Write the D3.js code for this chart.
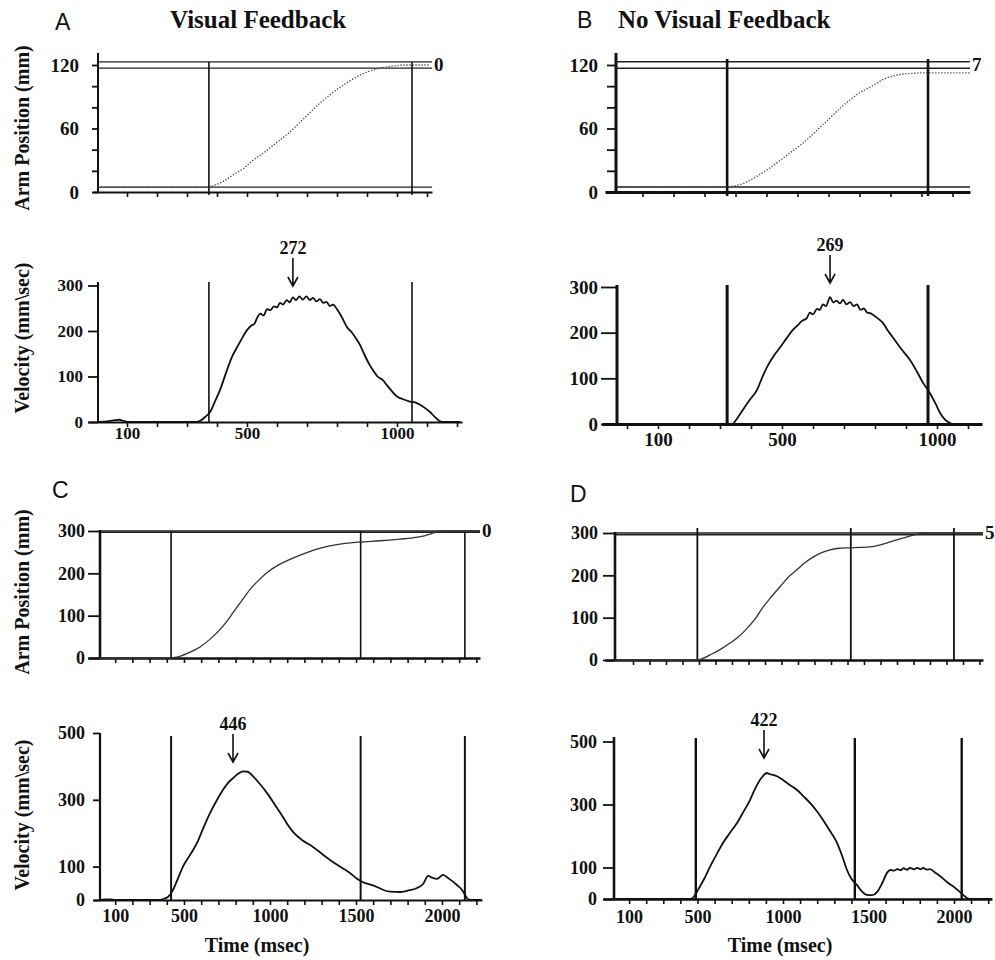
<!DOCTYPE html>
<html><head><meta charset="utf-8">
<script src="https://cdn.jsdelivr.net/npm/d3@7"></script>
<style>body{margin:0;background:#fff} svg{display:block}</style>
</head><body>
<svg id="fig" width="995" height="960"></svg>
<script>
// ---------------- DATA ----------------
const panelLetters = ["A", "B", "C", "D"];
const panelTitles = ["Visual Feedback", "No Visual Feedback"];
const yLabelPos = "Arm Position (mm)";
const yLabelVel = "Velocity (mm\\sec)";
const xLabelTime = "Time (msec)";

// Panel A (visual feedback, short movement)
const A_posT = [3, 373, 387, 420, 453, 487, 520, 560, 600, 640, 677, 710, 743, 777, 810, 843, 877, 910, 943, 987, 1030, 1110];
const A_pos  = [4.7, 4.7, 6, 10, 16, 22, 30, 38, 47, 56, 66, 75, 84, 92, 99, 105, 110.5, 114.5, 117, 119, 120, 120];
const A_velT = [3, 40, 60, 75, 90, 110, 330, 345, 360, 377, 393, 410, 430, 450, 465, 480, 500, 515, 525, 533, 545, 555, 567, 578, 590, 600, 610, 620, 632, 642, 653, 663, 675, 686, 698, 710, 720, 731, 743, 754, 765, 776, 787, 800, 815, 833, 850, 865, 877, 890, 905, 920, 935, 953, 965, 980, 1000, 1020, 1043, 1060, 1077, 1095, 1110, 1125, 1140, 1150, 1210];
const A_vel  = [0, 2, 4, 5, 2, 0, 0, 3, 11, 22, 45, 70, 108, 143, 162, 180, 202, 212, 216, 228, 238, 234, 248, 246, 254, 252, 262, 258, 268, 263, 274, 268, 276, 269, 276, 268, 273, 265, 270, 262, 264, 255, 258, 248, 232, 209, 196, 182, 169, 150, 130, 114, 100, 92, 82, 70, 56, 50, 45, 43, 38, 30, 22, 12, 3, 0, 0];
const A_events = [373, 1050];
const A_targets = [123, 117, 4.7];
const A_peak = {t: 653, label: "272"};
const A_endLabel = "0";

// Panel B (no visual feedback, short movement)
const B_posT = [-30, 325, 332, 387, 420, 452, 490, 526, 558, 590, 622, 655, 687, 719, 752, 784, 812, 839, 865, 890, 918, 945, 1106];
const B_pos  = [4.7, 4.7, 5, 9.5, 15, 21, 29, 37, 44, 52, 61, 70, 79, 87, 94, 99, 104, 108, 110, 111.5, 112, 112.5, 112.5];
const B_velT = [342, 358, 374, 395, 419, 435, 452, 472, 494, 515, 535, 550, 565, 580, 590, 600, 613, 622, 632, 642, 655, 665, 676, 687, 697, 708, 720, 731, 742, 753, 764, 775, 784, 800, 815, 826, 840, 855, 871, 890, 913, 935, 955, 977, 995, 1010, 1025, 1042, 1050];
const B_vel  = [0, 15, 31, 52, 74, 100, 125, 148, 168, 188, 206, 216, 226, 232, 244, 240, 252, 250, 262, 258, 278, 266, 270, 264, 272, 262, 267, 258, 262, 250, 253, 244, 243, 236, 228, 221, 206, 192, 177, 160, 140, 115, 90, 68, 45, 24, 10, 2, 0];
const B_events = [323, 971];
const B_targets = [123, 117, 4.7];
const B_peak = {t: 655, label: "269"};
const B_endLabel = "7";

// Panel C (visual feedback, long movement)
const C_posT = [12, 419, 459, 525, 593, 650, 709, 750, 785, 835, 884, 935, 983, 1050, 1116, 1195, 1273, 1340, 1407, 1523, 1640, 1756, 1830, 1890, 1940, 1988, 2020, 2220];
const C_pos  = [0, 0, 2, 12, 26, 44, 67, 87, 107, 135, 162, 184, 202, 220, 233, 246, 257, 264, 269, 274, 277, 281, 284, 288, 294, 299, 300, 300];
const C_velT = [12, 40, 70, 100, 343, 380, 407, 436, 465, 494, 535, 575, 612, 651, 690, 727, 755, 785, 815, 843, 870, 902, 940, 983, 1030, 1076, 1105, 1134, 1190, 1250, 1310, 1366, 1420, 1465, 1500, 1541, 1580, 1622, 1660, 1698, 1756, 1800, 1855, 1890, 1919, 1945, 1971, 2006, 2040, 2087, 2120, 2145, 2165, 2230];
const C_vel  = [0, 2, 2, 0, 0, 3, 9, 30, 65, 100, 135, 170, 215, 260, 298, 330, 350, 365, 378, 385, 384, 370, 348, 320, 284, 248, 224, 204, 178, 159, 135, 114, 96, 81, 66, 53, 47, 39, 30, 25, 24, 28, 36, 48, 72, 66, 63, 75, 64, 45, 28, 6, 0, 0];
const C_events = [425, 1527, 2133];
const C_targets = [300, 297];
const C_peak = {t: 785, label: "446"};
const C_endLabel = "0";

// Panel D (no visual feedback, long movement)
const D_posT = [-9, 488, 520, 567, 630, 688, 740, 790, 840, 888, 940, 991, 1040, 1093, 1140, 1191, 1240, 1294, 1350, 1415, 1475, 1536, 1600, 1658, 1710, 1761, 1810, 1858, 2221];
const D_pos  = [0, 0, 3, 12, 25, 40, 55, 74, 97, 125, 150, 173, 195, 213, 229, 243, 253, 260, 264, 265, 266, 267, 272, 279, 285, 291, 296, 300, 300];
const D_velT = [6, 456, 480, 503, 540, 573, 610, 649, 690, 731, 770, 807, 835, 865, 885, 906, 925, 942, 970, 1000, 1040, 1082, 1120, 1158, 1196, 1234, 1275, 1316, 1345, 1374, 1400, 1433, 1460, 1491, 1520, 1550, 1580, 1608, 1630, 1650, 1667, 1690, 1705, 1725, 1743, 1765, 1785, 1805, 1819, 1840, 1860, 1880, 1900, 1930, 1959, 2000, 2035, 2060, 2076, 2090, 2222];
const D_vel  = [0, 0, 8, 29, 65, 102, 140, 178, 210, 241, 278, 314, 348, 378, 392, 400, 396, 394, 388, 378, 362, 346, 326, 305, 280, 251, 216, 178, 138, 92, 64, 44, 25, 13, 12, 22, 50, 83, 92, 90, 95, 92, 98, 93, 99, 94, 99, 94, 99, 93, 95, 88, 80, 68, 54, 38, 22, 10, 3, 0, 0];
const D_events = [490, 1420, 2045];
const D_targets = [300, 296];
const D_peak = {t: 889, label: "422"};
const D_endLabel = "5";

// tick values / labels
const posTicksShort = [0, 20, 40, 60, 80, 100, 120];
const posLabelsShort = [0, 60, 120];
const posTicksLong = [0, 100, 200, 300];
const velTicksShort = [0, 100, 200, 300];
const velTicksLong = [0, 100, 300, 500];
const timeLabelsShort = [100, 500, 1000];
const timeLabelsLong = [100, 500, 1000, 1500, 2000];

// ---------------- DRAWING ----------------
const SERIF = "'Liberation Serif','Times New Roman',serif";
const SANS = "'Liberation Sans',Arial,sans-serif";
const svg = d3.select("#fig");
const zip = (a, b) => a.map((v, i) => [v, b[i]]);

function subplot(L, D) {
  const g = svg.append("g");
  const xs = L.xAxis[0], xe = L.xAxis[1];
  const x = d3.scaleLinear().domain([(xs - L.x0) / L.k, (xe - L.x0) / L.k]).range([xs, xe]);
  const y = d3.scaleLinear().domain(L.yDom).range(L.yRng);
  const y0 = y(0);

  // target (horizontal) lines
  (D.targets || []).forEach(v => {
    g.append("line").attr("x1", L.yAxisX).attr("x2", xe).attr("y1", y(v)).attr("y2", y(v))
      .attr("stroke", "#222").attr("stroke-width", L.targetW || 1.3);
  });

  // x axis with ticks every 100 ms
  const phase = L.phase || 0;
  const t0 = x.domain()[0], t1 = x.domain()[1];
  const tv = d3.range(Math.ceil((t0 - phase) / 100) * 100 + phase, t1, 100).filter(t => x(t) > L.yAxisX + 3);
  const labels = L.xLabels || [];
  const ax = d3.axisBottom(x).tickValues(tv).tickSize(L.xTickLen || 5).tickSizeOuter(0)
      .tickFormat(t => labels.includes(t) ? String(t) : "");
  const axg = g.append("g").attr("transform", `translate(0,${y0})`).call(ax);
  axg.select(".domain").attr("stroke", "#111").attr("stroke-width", L.axisW);
  axg.selectAll(".tick line").attr("stroke", "#111").attr("stroke-width", 1.6);
  axg.selectAll(".tick text").attr("font-family", SERIF).attr("font-weight", "bold")
      .attr("font-size", L.xTickFont || L.tickFont).attr("fill", "#111").attr("dy", null)
      .attr("y", L.xLabelDy || 16);

  // y axis
  g.append("line").attr("x1", L.yAxisX).attr("x2", L.yAxisX).attr("y1", L.yTop).attr("y2", y0 + 1)
    .attr("stroke", "#111").attr("stroke-width", L.axisW);
  const ay = d3.axisLeft(y).tickValues(L.yTicks).tickSize(L.yTickLen).tickSizeOuter(0)
      .tickPadding(L.yLabelPad).tickFormat(v => L.yLabels.includes(v) ? String(v) : "");
  const ayg = g.append("g").attr("transform", `translate(${L.yAxisX},0)`).call(ay);
  ayg.select(".domain").remove();
  ayg.selectAll(".tick line").attr("stroke", "#111").attr("stroke-width", 1.8);
  ayg.selectAll(".tick text").attr("font-family", SERIF).attr("font-weight", "bold")
      .attr("font-size", L.tickFont).attr("fill", "#111");

  // event lines
  D.events.forEach(t => {
    g.append("line").attr("x1", x(t)).attr("x2", x(t))
      .attr("y1", L.evTop).attr("y2", y0 + (L.evBelow || 0))
      .attr("stroke", "#111").attr("stroke-width", L.evW);
  });

  // curve
  const line = d3.line().x(d => x(d[0])).y(d => y(d[1])).curve(d3.curveMonotoneX);
  const path = g.append("path").datum(zip(D.t, D.v)).attr("d", line).attr("fill", "none")
    .attr("stroke", L.curveColor || "#111").attr("stroke-width", L.curveW || 1.8)
    .attr("stroke-linejoin", "round");
  if (L.dotted) path.attr("stroke-dasharray", "1.3,1.7");

  // end label
  if (D.endLabel) {
    g.append("text").attr("x", xe + 2).attr("y", y(D.endY) + 6).text(D.endLabel)
      .attr("font-family", SERIF).attr("font-weight", "bold").attr("font-size", 19).attr("fill", "#111");
  }
  // peak arrow
  if (D.peak) {
    const px = x(D.peak.t), tip = L.arrowTip, top = tip - 28;
    g.append("path").attr("d", `M${px},${top}L${px},${tip}M${px - 5},${tip - 9}L${px},${tip}L${px + 5},${tip - 9}`)
      .attr("fill", "none").attr("stroke", "#111").attr("stroke-width", 1.6);
    g.append("text").attr("x", px).attr("y", top - 4).attr("text-anchor", "middle").text(D.peak.label)
      .attr("font-family", SERIF).attr("font-weight", "bold").attr("font-size", 18).attr("fill", "#111");
  }
}

// Panel A
subplot({x0: 97, k: 0.3, xAxis: [93, 432], yAxisX: 98, yDom: [0, 120], yRng: [192, 65], yTop: 53,
  yTicks: posTicksShort, yLabels: posLabelsShort, yTickLen: 6, yLabelPad: 13, tickFont: 19, axisW: 2,
  evTop: 62, evBelow: 3, evW: 1.6, dotted: true, curveColor: "#444", curveW: 1.3, targetW: 1.3},
  {t: A_posT, v: A_pos, events: A_events, targets: A_targets, endLabel: A_endLabel, endY: 120});
subplot({x0: 97, k: 0.3, xAxis: [88, 462], yAxisX: 98, yDom: [0, 300], yRng: [422, 285.5], yTop: 282,
  yTicks: velTicksShort, yLabels: velTicksShort, yTickLen: 10, yLabelPad: 5, tickFont: 17, axisW: 2,
  xLabels: timeLabelsShort, xLabelDy: 17, evTop: 282, evW: 1.6, curveW: 1.8, arrowTip: 286},
  {t: A_velT, v: A_vel, events: A_events, peak: A_peak});

// Panel B
subplot({x0: 627, k: 0.31, xAxis: [605, 970], phase: 50, yAxisX: 616, yDom: [0, 120], yRng: [192, 65], yTop: 53,
  yTicks: posTicksShort, yLabels: posLabelsShort, yTickLen: 9, yLabelPad: 9, tickFont: 19, axisW: 3,
  evTop: 59, evBelow: 4, evW: 2.6, dotted: true, curveColor: "#444", curveW: 1.3, targetW: 1.5},
  {t: B_posT, v: B_pos, events: B_events, targets: B_targets, endLabel: B_endLabel, endY: 120});
subplot({x0: 627, k: 0.31, xAxis: [602, 982], yAxisX: 617, yDom: [0, 300], yRng: [424, 287], yTop: 285,
  yTicks: velTicksShort, yLabels: velTicksShort, yTickLen: 16, yLabelPad: 3, tickFont: 19, axisW: 3,
  xLabels: timeLabelsShort, xLabelDy: 22, evTop: 285, evW: 3, curveW: 1.8, arrowTip: 283},
  {t: B_velT, v: B_vel, events: B_events, peak: B_peak});

// Panel C
subplot({x0: 98, k: 0.172, xAxis: [88, 480], yAxisX: 100, yDom: [0, 300], yRng: [658, 531], yTop: 530,
  yTicks: posTicksLong, yLabels: posTicksLong, yTickLen: 12, yLabelPad: 3, tickFont: 18, axisW: 2.6,
  evTop: 531, evW: 1.6, curveColor: "#333", curveW: 1.3, targetW: 1.6},
  {t: C_posT, v: C_pos, events: C_events, targets: C_targets, endLabel: C_endLabel, endY: 300});
subplot({x0: 98, k: 0.172, xAxis: [93, 482], yAxisX: 100, yDom: [0, 500], yRng: [900, 733], yTop: 733,
  yTicks: velTicksLong, yLabels: velTicksLong, yTickLen: 7, yLabelPad: 8, tickFont: 18, axisW: 2.2,
  xLabels: timeLabelsLong, xLabelDy: 22, evTop: 736, evW: 2, curveW: 1.8, arrowTip: 762},
  {t: C_velT, v: C_vel, events: C_events, peak: C_peak});

// Panel D
subplot({x0: 616.5, k: 0.165, xAxis: [605, 983], yAxisX: 615, yDom: [0, 300], yRng: [660, 533], yTop: 532,
  yTicks: posTicksLong, yLabels: posTicksLong, yTickLen: 12, yLabelPad: 5, tickFont: 18, axisW: 2.6,
  evTop: 528, evW: 1.8, curveColor: "#333", curveW: 1.3, targetW: 1.6},
  {t: D_posT, v: D_pos, events: D_events, targets: D_targets, endLabel: D_endLabel, endY: 300});
subplot({x0: 612, k: 0.171, xAxis: [603, 992], yAxisX: 614, yDom: [0, 500], yRng: [899, 741.5], yTop: 737,
  yTicks: velTicksLong, yLabels: velTicksLong, yTickLen: 11, yLabelPad: 6, tickFont: 18, axisW: 2.6,
  xLabels: timeLabelsLong, xLabelDy: 24, evTop: 738, evW: 2.4, curveW: 1.8, arrowTip: 758},
  {t: D_velT, v: D_vel, events: D_events, peak: D_peak});

// Letters & titles
const letterPos = [[55, 30], [577, 28], [52, 498], [570, 502]];
panelLetters.forEach((L, i) => svg.append("text").attr("x", letterPos[i][0]).attr("y", letterPos[i][1])
  .text(L).attr("font-family", SANS).attr("font-size", 23).attr("fill", "#111"));
const titlePos = [[170, 28], [618, 28]];
panelTitles.forEach((T, i) => svg.append("text").attr("x", titlePos[i][0]).attr("y", titlePos[i][1])
  .text(T).attr("font-family", SERIF).attr("font-weight", "bold").attr("font-size", 25).attr("fill", "#111"));

// Rotated y labels
[[128, yLabelPos], [338, yLabelVel], [592, yLabelPos], [815, yLabelVel]].forEach(([cy, txt]) => {
  svg.append("text").attr("transform", `translate(29,${cy}) rotate(-90)`).attr("text-anchor", "middle")
    .text(txt).attr("font-family", SERIF).attr("font-weight", "bold").attr("font-size", 20).attr("fill", "#111");
});
// Time labels
[257, 780].forEach(cx => svg.append("text").attr("x", cx).attr("y", 952).attr("text-anchor", "middle")
  .text(xLabelTime).attr("font-family", SERIF).attr("font-weight", "bold").attr("font-size", 20).attr("fill", "#111"));
</script>
</body></html>
